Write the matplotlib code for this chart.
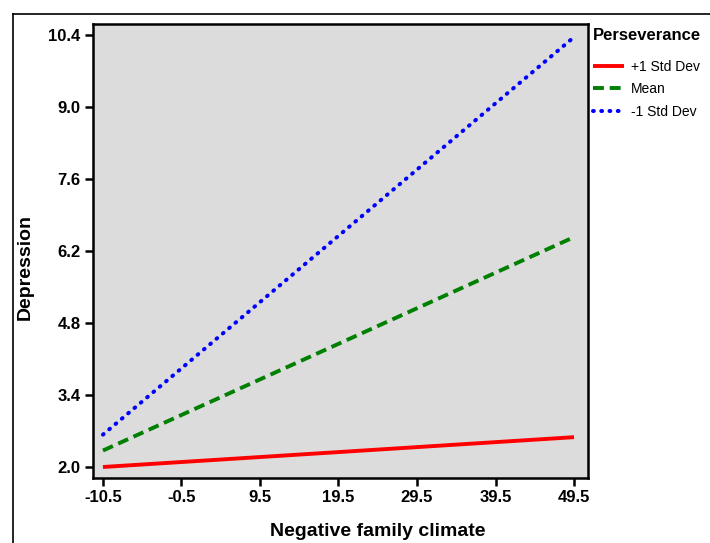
import matplotlib
matplotlib.use("Agg")
import matplotlib.pyplot as plt
from matplotlib.lines import Line2D

plt.rcParams['font.family'] = ['Liberation Sans', 'DejaVu Sans']

x_vals = [-10.5, 49.5]
series_names = ['+1 Std Dev', 'Mean', '-1 Std Dev']
plus1 = [2.0, 2.58]
mean = [2.32, 6.47]
minus1 = [2.63, 10.36]
xticks = [-10.5, -0.5, 9.5, 19.5, 29.5, 39.5, 49.5]
yticks = [2.0, 3.4, 4.8, 6.2, 7.6, 9.0, 10.4]

W, H = 710, 543
fig = plt.figure(figsize=(W/100, H/100), dpi=100)
ax = fig.add_axes([93/W, 1-478/H, (588-93)/W, (478-24)/H])
ax.set_facecolor('#dcdcdc')

l1, = ax.plot(x_vals, plus1, color='#ff0000', lw=2.8, solid_capstyle='butt')
l2, = ax.plot(x_vals, mean, color='#008000', lw=2.8, dashes=(2.8, 1.5), dash_capstyle='butt')
l3, = ax.plot(x_vals, minus1, color='#0000ff', lw=2.9, dashes=(0.2, 1.85), dash_capstyle='round')

ax.set_xlim(-11.77, 51.28)
ax.set_ylim(1.786, 10.614)
ax.set_xticks(xticks)
ax.set_xticklabels([f'{v:.1f}' for v in xticks])
ax.set_yticks(yticks)
ax.set_yticklabels([f'{v:.1f}' for v in yticks])
for s in ax.spines.values():
    s.set_linewidth(1.8)
ax.tick_params(direction='out', length=6, width=1.8, labelsize=12, pad=3)
for lab in ax.get_xticklabels() + ax.get_yticklabels():
    lab.set_fontweight('bold')

fig.text(378/W, 1-531/H, 'Negative family climate', ha='center', va='center',
         fontsize=14, fontweight='bold')
fig.text(25/W, 1-267/H, 'Depression', ha='center', va='center', rotation=90,
         fontsize=14, fontweight='bold')

leg = fig.legend([l1, l2, l3], series_names, loc='upper left',
                 bbox_to_anchor=(591/W, 1-26/H), frameon=False,
                 title='Perseverance', fontsize=10, handlelength=2.25,
                 handletextpad=0.5, labelspacing=0.62, borderaxespad=0,
                 borderpad=0.15, alignment='left')
leg.get_title().set_fontweight('bold')
leg.get_title().set_fontsize(12)
leg._legend_box.sep = 12

fig.add_artist(Line2D([13/W, 13/W], [0, 1-14/H], color='black', lw=1.2,
                      transform=fig.transFigure))
fig.add_artist(Line2D([13/W, 1], [1-14/H, 1-14/H], color='black', lw=1.2,
                      transform=fig.transFigure))

fig.savefig('out.png', dpi=100)
